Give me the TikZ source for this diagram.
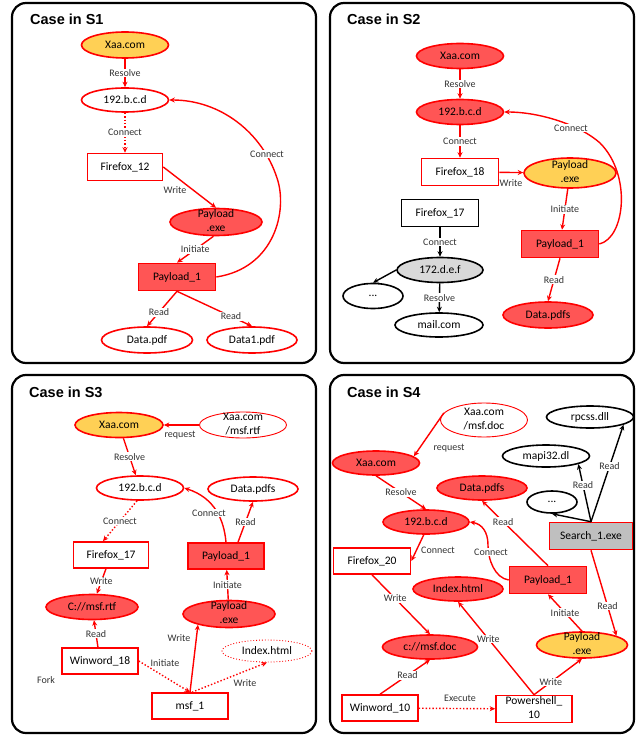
\documentclass[tikz,border=0pt]{standalone}
\usepackage{fontspec}
\setmainfont{Carlito}
\newfontfamily\titlefont{Liberation Sans}
\usetikzlibrary{shapes.geometric,arrows.meta}
\definecolor{lred}{RGB}{255,0,0}
\definecolor{rfill}{RGB}{255,85,85}
\definecolor{yfill}{RGB}{255,208,85}
\definecolor{gfill}{RGB}{217,217,217}
\definecolor{sgfill}{RGB}{191,191,191}
\newcommand\twoline[2]{\smash{\raisebox{-0.25em}{\begin{tabular}{@{}c@{}}#1\\#2\end{tabular}}}}
\begin{document}
\begin{tikzpicture}[x=1pt,y=-1pt,
  nfont/.style={font=\fontsize{11.5}{14}\selectfont},
  ell/.style={ellipse,draw=lred,line width=1.6pt,inner sep=0pt,minimum width=87pt,minimum height=25pt,nfont},
  box/.style={rectangle,draw=lred,line width=1.6pt,inner sep=0pt,minimum width=77pt,minimum height=27pt,fill=white,nfont},
  redf/.style={fill=rfill},
  yel/.style={fill=yfill},
  thinb/.style={line width=0.9pt},
  lab/.style={font=\fontsize{10}{12}\selectfont,text=black!80,fill=white,inner sep=0.8pt},
  labn/.style={font=\fontsize{10}{12}\selectfont,text=black!80,inner sep=0.8pt},
  rarr/.style={draw=lred,line width=1.4pt,-{Stealth[length=5.5pt,width=5pt]}},
  barr/.style={draw=black,line width=1.4pt,-{Stealth[length=5.5pt,width=5pt]}},
  panel/.style={draw=black,line width=2.2pt,rounded corners=14pt},
  title/.style={font=\titlefont\bfseries\fontsize{14.5}{17}\selectfont,anchor=west,inner sep=0pt}]
\useasboundingbox (0,0) rectangle (637,735);
% panels
\draw[panel] (12,3) rectangle (316,363);
\draw[panel] (330,3) rectangle (634,363);
\draw[panel] (12,375) rectangle (316,733);
\draw[panel] (330,375) rectangle (634,733);
\node[title] (t1) at (30,19) {Case in S1};
\node[title] (t2) at (347,19) {Case in S2};
\node[title] (t3) at (29,392) {Case in S3};
\node[title] (t4) at (347,392) {Case in S4};

% ===== S1 =====
\node[ell,yel,minimum height=26pt] (s1xaa) at (125,45) {Xaa.com};
\node[ell,fill=white,minimum height=24pt] (s1ip) at (125,100) {192.b.c.d};
\node[box,minimum width=75pt] (s1ff) at (125,167) {Firefox\_12};
\node[ell,redf,minimum width=92pt,minimum height=27pt] (s1pe) at (216,222) {\twoline{Payload}{.exe}};
\node[box,redf] (s1p1) at (177,277) {Payload\_1};
\node[ell,fill=white,minimum width=91pt,minimum height=26pt] (s1d) at (147,340) {Data.pdf};
\node[ell,fill=white,minimum width=90pt,minimum height=26pt] (s1d1) at (252,340) {Data1.pdf};
\draw[rarr] (s1xaa) -- node[lab]{Resolve} (s1ip);
\draw[rarr,dotted] (s1ip) -- node[lab]{Connect} (s1ff);
\draw[rarr] (s1ff.east) -- (s1pe.north);
\node[labn] (s1wl) at (175,190) {Write};
\draw[rarr] (s1pe.-100) -- node[lab]{Initiate} (s1p1.north);
\draw[rarr] (s1p1.east) .. controls (275,268) and (288,210) .. (277,178) .. controls (262,132) and (220,100) .. (s1ip.east);
\node[lab] (s1cl) at (267,154) {Connect};
\draw[rarr] (s1p1.south) -- node[lab,pos=0.6]{Read} (s1d.north);
\draw[rarr] (s1p1.south) -- node[lab,pos=0.72]{Read} (s1d1.north);

% ===== S2 =====
\node[ell,redf] (s2xaa) at (460,56) {Xaa.com};
\node[ell,redf] (s2ip) at (460,112) {192.b.c.d};
\node[box] (s2ff) at (460,172) {Firefox\_18};
\node[ell,yel,minimum width=92pt,minimum height=30pt] (s2pe) at (570,173) {\twoline{Payload}{.exe}};
\node[box,redf] (s2p1) at (560,244) {Payload\_1};
\node[ell,redf,minimum width=90pt,minimum height=26pt] (s2d) at (548,315) {Data.pdfs};
\node[box,draw=black] (s2f17) at (440,213) {Firefox\_17};
\node[ell,draw=black,fill=gfill,minimum width=86pt] (s2x) at (440,270) {172.d.e.f};
\node[ell,draw=black,fill=white,minimum width=60pt] (s2dots) at (373,296) {...};
\node[ell,draw=black,fill=white,minimum width=88pt,minimum height=24pt] (s2mail) at (439,325) {mail.com};
\draw[rarr] (s2xaa) -- node[lab]{Resolve} (s2ip);
\draw[rarr] (s2ip) -- node[lab]{Connect} (s2ff);
\draw[rarr] (s2ff) -- (s2pe);
\node[labn] (s2wl) at (511,183) {Write};
\draw[rarr] (s2pe) -- node[lab]{Initiate} (s2p1);
\draw[rarr] (s2p1.south) -- node[lab]{Read} (s2d.north);
\draw[rarr] (s2p1.east) .. controls (625,238) and (632,175) .. (600,143) .. controls (580,125) and (540,112) .. (s2ip.east);
\node[lab] (s2cl) at (571,128) {Connect};
\draw[barr] (s2f17) -- node[lab]{Connect} (s2x);
\draw[barr] (s2x.west) -- (s2dots.north);
\draw[barr] (s2x) -- node[lab]{Resolve} (s2mail);

% ===== S3 =====
\node[ell,yel,minimum width=88pt] (s3xaa) at (119,425) {Xaa.com};
\node[ell,thinb,fill=white,minimum width=87pt,minimum height=26pt] (s3url) at (243,425) {\twoline{Xaa.com}{/msf.rtf}};
\node[ell,fill=white,minimum height=24pt] (s3ip) at (140,488) {192.b.c.d};
\node[ell,fill=white,minimum width=90pt,minimum height=24pt] (s3d) at (253,489) {Data.pdfs};
\node[box,minimum width=75pt,minimum height=26pt] (s3ff) at (111,555) {Firefox\_17};
\node[box,redf,minimum width=76pt,minimum height=26pt] (s3p1) at (226,556) {Payload\_1};
\node[ell,redf,minimum width=92pt,minimum height=25pt] (s3c) at (92,607) {C://msf.rtf};
\node[ell,redf,minimum width=92pt,minimum height=27pt] (s3pe) at (229,614) {\twoline{Payload}{.exe}};
\node[box,minimum width=76pt,minimum height=26pt] (s3ww) at (100,661) {Winword\_18};
\node[ell,thinb,dotted,fill=white,minimum width=90pt,minimum height=22pt] (s3idx) at (267,651) {Index.html};
\node[box,minimum width=76pt,minimum height=26pt] (s3msf) at (190,706) {msf\_1};
\node[labn] (s3fork) at (46,680) {Fork};
\draw[rarr] (s3url) -- (s3xaa);
\node[labn] (s3rq) at (180,435) {request};
\draw[rarr] (s3xaa) -- node[lab]{Resolve} (s3ip);
\draw[rarr,dotted] ([xshift=-3pt]s3ip.south) -- node[lab]{Connect} ([xshift=-8pt]s3ff.north);
\draw[rarr] (s3p1.north) .. controls (224,520) and (215,498) .. (s3ip.east);
\node[lab] (s3cl) at (209,513) {Connect};
\draw[rarr] ([xshift=12pt]s3p1.north) -- node[lab]{Read} (s3d.south);
\draw[rarr] (s3ff) -- node[lab]{Write} (s3c);
\draw[rarr] (s3pe) -- node[lab]{Initiate} (s3p1);
\draw[rarr] (s3ww) -- node[lab]{Read} (s3c);
\draw[rarr,dotted] (s3ww.east) -- (s3msf.north);
\node[labn] (s3il) at (165,663) {Initiate};
\draw[rarr] (s3msf.north) -- (s3pe.199);
\node[labn] (s3wl) at (179,638) {Write};
\draw[rarr,dotted] ([xshift=2pt]s3msf.north) -- (s3idx.south);
\node[labn] (s3wl2) at (245,683) {Write};

% ===== S4 =====
\node[ell,thinb,fill=white,minimum width=87pt,minimum height=34pt] (s4url) at (484,420) {\twoline{Xaa.com}{/msf.doc}};
\node[ell,redf,minimum height=24pt] (s4xaa) at (376,463) {Xaa.com};
\node[ell,redf,minimum width=90pt,minimum height=24pt] (s4d) at (482,488) {Data.pdfs};
\node[ell,redf,minimum width=86pt,minimum height=24pt] (s4ip) at (426,522) {192.b.c.d};
\node[ell,draw=black,fill=white,minimum height=22pt] (s4mapi) at (546,456) {mapi32.dl};
\node[ell,draw=black,fill=white,minimum height=22pt] (s4rpc) at (590,417) {rpcss.dll};
\node[ell,draw=black,fill=white,minimum width=50pt,minimum height=22pt] (s4dots) at (552,502) {...};
\node[box,fill=sgfill,minimum width=83pt] (s4srch) at (591,536) {Search\_1.exe};
\node[box,minimum height=26pt] (s4ff) at (372,561) {Firefox\_20};
\node[box,redf] (s4p1) at (548,580) {Payload\_1};
\node[ell,redf,minimum width=90pt,minimum height=24pt] (s4idx) at (458,589) {Index.html};
\node[ell,redf,minimum width=95pt,minimum height=24pt] (s4c) at (430,647) {c://msf.doc};
\node[ell,yel,minimum width=91pt,minimum height=26pt] (s4pe) at (582,645) {\twoline{Payload}{.exe}};
\node[box,minimum width=76pt,minimum height=26pt] (s4ww) at (380,708) {Winword\_10};
\node[box,minimum width=76pt] (s4ps) at (534,709) {\twoline{Powershell\_}{10}};
\draw[rarr] (s4url.170) -- (s4xaa.10);
\node[labn] (s4rq) at (449,448) {request};
\draw[rarr] (s4xaa.south) -- node[lab]{Resolve} (s4ip.north);
\draw[rarr] (s4ip.-100) -- (s4ff.east);
\node[labn] (s4cl1) at (438,550) {Connect};
\draw[rarr] (s4p1.west) .. controls (495,578) and (488,560) .. (488,545) .. controls (488,532) and (482,524) .. (s4ip.east);
\node[lab] (s4cl2) at (491,552) {Connect};
\draw[rarr] (s4p1.north) -- node[lab,pos=0.68]{Read} (s4d.south);
\draw[barr] (s4srch.north) -- (s4dots.south);
\draw[barr] (s4srch.north) -- node[lab,pos=0.63]{Read} (s4mapi.-14);
\draw[barr] (s4srch.north) -- node[lab,pos=0.57]{Read} (s4rpc.-13);
\draw[rarr] (s4srch.south) -- node[lab,pos=0.65]{Read} (s4pe.15);
\draw[rarr] (s4pe.north) -- node[lab]{Initiate} (s4p1.south);
\draw[rarr] (s4ff.south) -- node[lab,pos=0.4]{Write} (s4c.north);
\draw[rarr] (s4ww.north) -- node[lab,pos=0.55]{Read} (s4c.south);
\draw[rarr,dotted] (s4ww) -- (s4ps);
\node[labn] (s4ex) at (460,698) {Execute};
\draw[rarr] (s4ps.north) -- node[lab,pos=0.6]{Write} (s4idx.south);
\draw[rarr] (s4ps.north) -- node[lab,pos=0.35]{Write} (s4pe.south);
\end{tikzpicture}
\end{document}
